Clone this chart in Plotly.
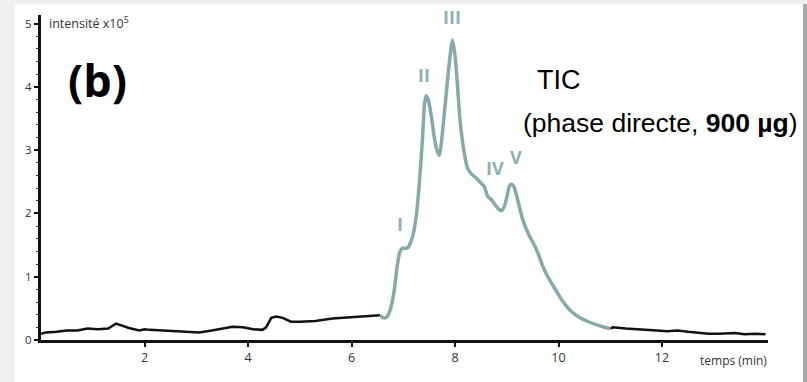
import plotly.graph_objects as go

# --- data (time in min, intensity x10^5) ---
base_x = [0, 0.1, 0.3, 0.5, 0.7, 0.8, 0.9, 1.1, 1.3, 1.45, 1.55, 1.7, 1.9, 2.0, 2.1, 2.3, 2.6,
          2.9, 3.06, 3.3, 3.58, 3.7, 3.9, 4.1, 4.28, 4.35, 4.45, 4.55, 4.67, 4.83, 5.0, 5.3,
          5.63, 5.8, 6.0, 6.2, 6.4, 6.55]
base_y = [0.1, 0.12, 0.13, 0.15, 0.15, 0.17, 0.18, 0.17, 0.18, 0.26, 0.23, 0.19, 0.15, 0.17,
          0.16, 0.15, 0.14, 0.13, 0.12, 0.15, 0.2, 0.21, 0.2, 0.17, 0.16, 0.2, 0.35, 0.37, 0.35,
          0.29, 0.29, 0.3, 0.34, 0.35, 0.35, 0.37, 0.38, 0.39]

tic_x = [6.55, 6.62, 6.68, 6.75, 6.82, 6.88, 6.93, 6.98, 7.05, 7.09, 7.18, 7.25, 7.31, 7.37,
         7.41, 7.44, 7.48, 7.54, 7.6, 7.65, 7.7, 7.76, 7.82, 7.88, 7.95, 8.0, 8.05, 8.1, 8.17,
         8.24, 8.32, 8.41, 8.5, 8.57, 8.63, 8.7, 8.78, 8.84, 8.89, 8.95, 9.0, 9.05, 9.09, 9.14,
         9.2, 9.26, 9.31, 9.38, 9.44, 9.52, 9.6, 9.68, 9.76, 9.85, 9.96, 10.05, 10.15, 10.25,
         10.4, 10.55, 10.7, 10.85, 11.0]
tic_y = [0.39, 0.35, 0.36, 0.48, 0.75, 1.15, 1.38, 1.45, 1.45, 1.46, 1.63, 1.95, 2.47, 3.16,
         3.72, 3.86, 3.8, 3.55, 3.2, 3.0, 2.92, 3.3, 3.8, 4.3, 4.74, 4.5, 4.0, 3.45, 3.0, 2.72,
         2.62, 2.56, 2.48, 2.42, 2.27, 2.22, 2.13, 2.07, 2.04, 2.1, 2.25, 2.43, 2.46, 2.42, 2.25,
         2.05, 1.9, 1.75, 1.64, 1.52, 1.38, 1.2, 1.05, 0.92, 0.77, 0.65, 0.54, 0.45, 0.36, 0.3,
         0.25, 0.21, 0.18]

tail_x = [11.0, 11.05, 11.3, 11.6, 11.9, 12.1, 12.3, 12.5, 12.7, 12.9, 13.1, 13.4, 13.6, 13.8, 14.0]
tail_y = [0.18, 0.2, 0.18, 0.16, 0.15, 0.14, 0.15, 0.13, 0.11, 0.1, 0.1, 0.11, 0.09, 0.1, 0.09]

peak_labels = ["I", "II", "III", "IV", "V"]
peak_x = [6.93, 7.41, 7.95, 8.78, 9.17]
peak_y = [1.83, 4.19, 5.10, 2.72, 2.89]

x_ticks = [2, 4, 6, 8, 10, 12]
y_ticks = [0, 1, 2, 3, 4, 5]

TEAL = "#87a9aa"
W, H = 807, 382
ML, MR, MT, MB = 41, 39, 15, 42
PW, PH = W - ML - MR, H - MT - MB

def px2paper_x(px):
    return (px - ML) / PW

def px2paper_y(py):
    return (H - MB - py) / PH

fig = go.Figure()
fig.add_trace(go.Scatter(x=base_x, y=base_y, mode="lines",
                         line=dict(color="#111111", width=2.5), showlegend=False))
fig.add_trace(go.Scatter(x=tail_x, y=tail_y, mode="lines",
                         line=dict(color="#111111", width=2.5), showlegend=False))
fig.add_trace(go.Scatter(x=tic_x, y=tic_y, mode="lines",
                         line=dict(color=TEAL, width=3.5, shape="spline", smoothing=0.6),
                         showlegend=False))

for lab, xx, yy in zip(peak_labels, peak_x, peak_y):
    fig.add_annotation(x=xx, y=yy, text="<b>%s</b>" % lab, showarrow=False,
                       xanchor="center", yanchor="middle",
                       font=dict(family="Open Sans", size=18, color="#8fb0b1"))

# frame / backdrop
shapes = [
    dict(type="rect", xref="paper", yref="paper", layer="below",
         x0=px2paper_x(15), x1=px2paper_x(803), y0=px2paper_y(382), y1=px2paper_y(4),
         fillcolor="white", line=dict(width=0)),
    dict(type="rect", xref="paper", yref="paper", layer="below",
         x0=px2paper_x(803), x1=px2paper_x(807), y0=px2paper_y(382), y1=px2paper_y(4),
         fillcolor="#a8a8a8", line=dict(width=0)),
]

annots = [
    dict(x=px2paper_x(97), y=px2paper_y(80), xanchor="center", text="<b>(b)</b>",
         font=dict(family="Open Sans", size=45, color="black")),
    dict(x=px2paper_x(47), y=px2paper_y(23), xanchor="left",
         text="intensité x10<sup>5</sup>",
         font=dict(family="Open Sans", size=12.5, color="#333333")),
    dict(x=px2paper_x(535), y=px2paper_y(80), xanchor="left", text="TIC",
         font=dict(family="Liberation Sans", size=27, color="black")),
    dict(x=px2paper_x(521), y=px2paper_y(123), xanchor="left",
         text="(phase directe, <b>900 µg</b>)",
         font=dict(family="Liberation Sans", size=26.5, color="black")),
    dict(x=px2paper_x(769), y=px2paper_y(361), xanchor="right", text="temps (min)",
         font=dict(family="Open Sans", size=12, color="#333333")),
]
for a in annots:
    fig.add_annotation(xref="paper", yref="paper", showarrow=False, yanchor="middle", **a)

fig.update_layout(
    width=W, height=H,
    margin=dict(l=ML, r=MR, t=MT, b=MB, pad=0),
    paper_bgcolor="#f0f0f0", plot_bgcolor="rgba(0,0,0,0)",
    shapes=shapes,
    xaxis=dict(range=[0, PW / 51.75], tickvals=x_ticks, showgrid=False, zeroline=False,
               showline=True, linecolor="#111111", linewidth=2.5,
               ticks="outside", ticklen=4, tickwidth=2, tickcolor="#111111",
               tickfont=dict(family="Open Sans", size=12.5, color="#333333")),
    yaxis=dict(range=[0, PH / 63.3], tickvals=y_ticks, showgrid=False, zeroline=False,
               showline=True, linecolor="#111111", linewidth=3,
               ticks="outside", ticklen=4, tickwidth=2, tickcolor="#111111",
               minor=dict(ticks="outside", ticklen=2, dtick=0.2, tickcolor="#333333", tickwidth=1),
               tickfont=dict(family="Open Sans", size=11.5, color="#333333")),
)

fig.write_html("out.html", config={"displayModeBar": False},
               post_script="document.body.style.margin='0px';document.body.style.overflow='hidden';")
